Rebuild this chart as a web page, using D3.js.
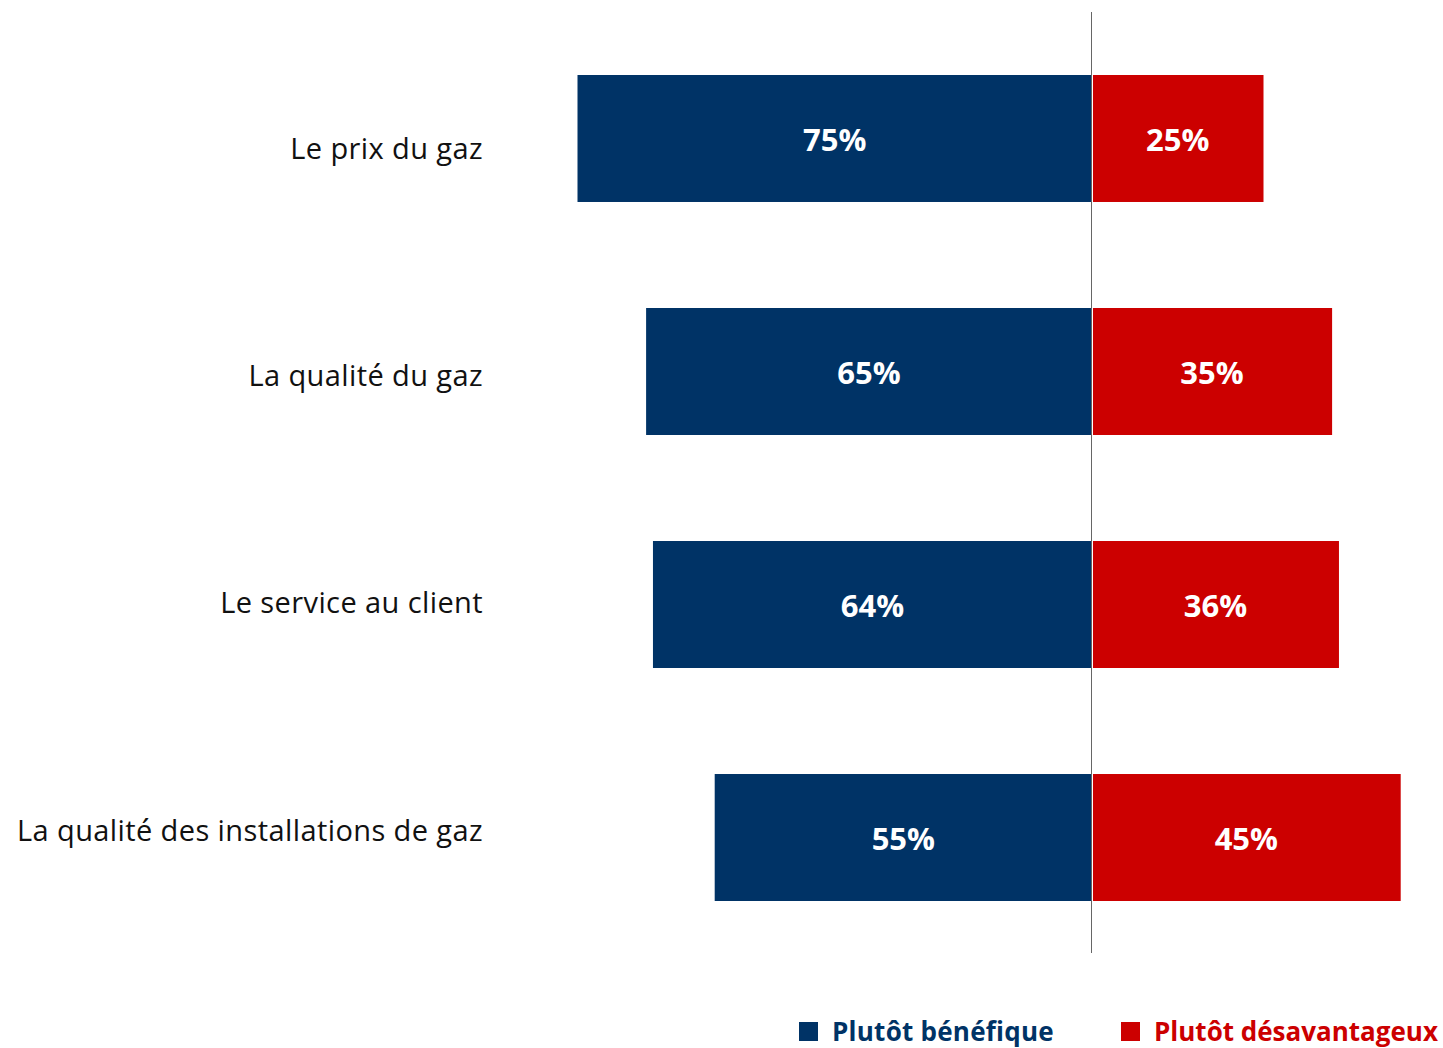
<!DOCTYPE html>
<html><head><meta charset="utf-8">
<script src="https://cdn.jsdelivr.net/npm/d3@7"></script>
<style>body{margin:0;background:#fff}svg{display:block}</style>
</head><body>
<script>
const categories = ["Le prix du gaz","La qualité du gaz","Le service au client","La qualité des installations de gaz"];
const benefique = [75,65,64,55];
const desavantageux = [25,35,36,45];
const seriesNames = ["Plutôt bénéfique","Plutôt désavantageux"];
const colors = ["#003366","#CC0000"];

const W=1443,H=1048;
const svg=d3.select("body").append("svg").attr("width",W).attr("height",H);
const center=1092;
const xL=d3.scaleLinear().domain([0,100]).range([center,center-686]);
const xR=d3.scaleLinear().domain([0,100]).range([center,center+686]);
const y=d3.scaleBand().domain(categories).range([75,901]).paddingInner(0.455).paddingOuter(0);
const yLab=d3.scaleBand().domain(categories).range([35,944]).padding(0);
const font="Open Sans, sans-serif";

const g=svg.append("g");
g.selectAll("rect.b").data(categories).join("rect").attr("class","b")
 .attr("x",(d,i)=>xL(benefique[i])).attr("width",(d,i)=>xL(0)-xL(benefique[i])-1)
 .attr("y",d=>y(d)).attr("height",y.bandwidth()).attr("fill",colors[0]);
g.selectAll("rect.r").data(categories).join("rect").attr("class","r")
 .attr("x",xR(0)+1).attr("width",(d,i)=>xR(desavantageux[i])-xR(0)-1)
 .attr("y",d=>y(d)).attr("height",y.bandwidth()).attr("fill",colors[1]);

g.selectAll("text.vb").data(categories).join("text").attr("class","vb")
 .attr("x",(d,i)=>(xL(benefique[i])+xL(0))/2).attr("y",d=>y(d)+y.bandwidth()/2)
 .attr("dy","0.4em").attr("text-anchor","middle").attr("fill","#fff")
 .attr("font-family",font).attr("font-weight","bold").attr("font-size",31)
 .text((d,i)=>benefique[i]+"%");
g.selectAll("text.vr").data(categories).join("text").attr("class","vr")
 .attr("x",(d,i)=>(xR(desavantageux[i])+xR(0))/2).attr("y",d=>y(d)+y.bandwidth()/2)
 .attr("dy","0.4em").attr("text-anchor","middle").attr("fill","#fff")
 .attr("font-family",font).attr("font-weight","bold").attr("font-size",31)
 .text((d,i)=>desavantageux[i]+"%");

g.selectAll("text.cat").data(categories).join("text").attr("class","cat")
 .attr("x",483).attr("y",d=>yLab(d)+yLab.bandwidth()/2).attr("dy","0.35em")
 .attr("text-anchor","end").attr("fill","#111").attr("font-family",font).attr("font-size",29)
 .attr("letter-spacing","0.4px")
 .text(d=>d);

svg.append("line").attr("x1",xL(0)-0.5).attr("x2",xL(0)-0.5).attr("y1",12).attr("y2",953)
 .attr("stroke","#666").attr("stroke-width",1);

const leg=svg.append("g");
const legX=[799,1121];
seriesNames.forEach((n,i)=>{
  leg.append("rect").attr("x",legX[i]).attr("y",1022).attr("width",19).attr("height",19).attr("fill",colors[i]);
  leg.append("text").attr("x",legX[i]+33).attr("y",1032).attr("dy","0.35em").attr("fill",colors[i])
   .attr("font-family",font).attr("font-weight","bold").attr("font-size",26)
   .attr("letter-spacing",i===1?"0px":"0.25px").text(n);
});
</script>
</body></html>
